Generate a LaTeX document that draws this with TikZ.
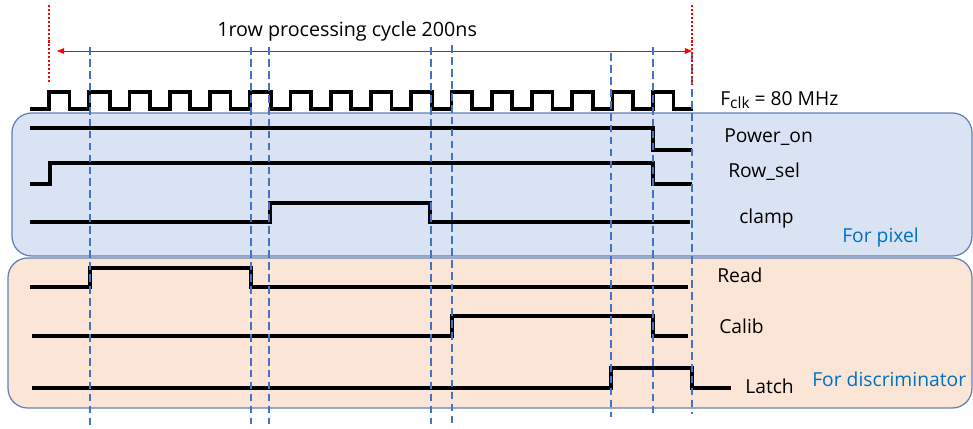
\documentclass[tikz,border=0pt]{standalone}
\usepackage{fontspec}
\setmainfont{Open Sans}
\usetikzlibrary{arrows.meta}
\definecolor{PixelBlue}{RGB}{218,227,243}
\definecolor{DiscOrange}{RGB}{251,229,214}
\definecolor{PanelEdge}{RGB}{100,128,180}
\definecolor{GuideBlue}{RGB}{68,114,196}
\definecolor{LabelBlue}{RGB}{0,112,192}
\definecolor{CycleRed}{RGB}{255,0,0}

\begin{document}
\begin{tikzpicture}[x=0.025cm, y=-0.025cm,
  sig/.style={line width=2.5pt, line join=miter},
  guide/.style={GuideBlue, line width=1.4pt, dash pattern=on 5.5pt off 3pt},
  marker/.style={CycleRed, line width=1.6pt, dash pattern=on 1.5pt off 1.3pt},
  lbl/.style={anchor=base west, inner sep=0pt, font=\fontsize{13.7}{16}\selectfont},
  panel/.style={draw=PanelEdge, line width=0.9pt, rounded corners=14pt}]
\useasboundingbox (0,0) rectangle (973,428);
\filldraw[panel, fill=PixelBlue] (12,113) rectangle (972,256);
\filldraw[panel, fill=DiscOrange] (8,258) rectangle (972,408);
\node[lbl, font=\fontsize{14}{17}\selectfont] (cycle) at (217,36) {1row processing cycle 200ns};
\coordinate (arrowL) at (57,51);
\coordinate (arrowR) at (692,51);
\draw[CycleRed, line width=0.6pt, {Triangle[length=5pt,width=4pt]}-{Triangle[length=5pt,width=4pt]}] (arrowL) -- (arrowR);
\draw[sig] (30,109) foreach \k in {0,...,15} {-- ({49+40.25*\k},109) -- ++(0,-17) -- ++(20.5,0) -- ++(0,17)} -- (693,109);
\draw[sig] (30,128) -- (653,128) -- (653,150) -- (692,150);
\draw[sig] (30,184) -- (50,184) -- (50,163) -- (653,163) -- (653,184) -- (692,184);
\draw[sig] (30,222) -- (270,222) -- (270,203) -- (430,203) -- (430,222) -- (690,222);
\draw[sig] (30,287) -- (90,287) -- (90,268) -- (251,268) -- (251,287) -- (688,287);
\draw[sig] (32,336) -- (452,336) -- (452,316) -- (653,316) -- (653,336) -- (688,336);
\draw[sig] (32,388) -- (611,388) -- (611,368) -- (692,368) -- (692,388) -- (731,388);
\foreach \x/\top/\bot in {90/47/426, 251/47/424, 269/47/424, 431/47/424, 452/45/424, 611/53/417, 653/47/416, 692/53/414}
  \draw[guide] (\x,\top) -- (\x,\bot);
\draw[marker] (49,5) -- (49,83);
\draw[marker] (692,5) -- (692,85);
\node[lbl] (fclk) at (720,105) {F\raisebox{-0.35ex}{\fontsize{11}{11}\selectfont clk} = 80 MHz};
\node[lbl] (poweron) at (724,142) {Power\_on};
\node[lbl] (rowsel) at (728,177) {Row\_sel};
\node[lbl] (clamp) at (739,223) {clamp};
\node[lbl, LabelBlue] (forpixel) at (842,242) {For pixel};
\node[lbl] (read) at (717,282) {Read};
\node[lbl] (calib) at (719,333) {Calib};
\node[lbl] (latch) at (745,393) {Latch};
\node[lbl, LabelBlue] (fordisc) at (812,386) {For discriminator};
\end{tikzpicture}
\end{document}
